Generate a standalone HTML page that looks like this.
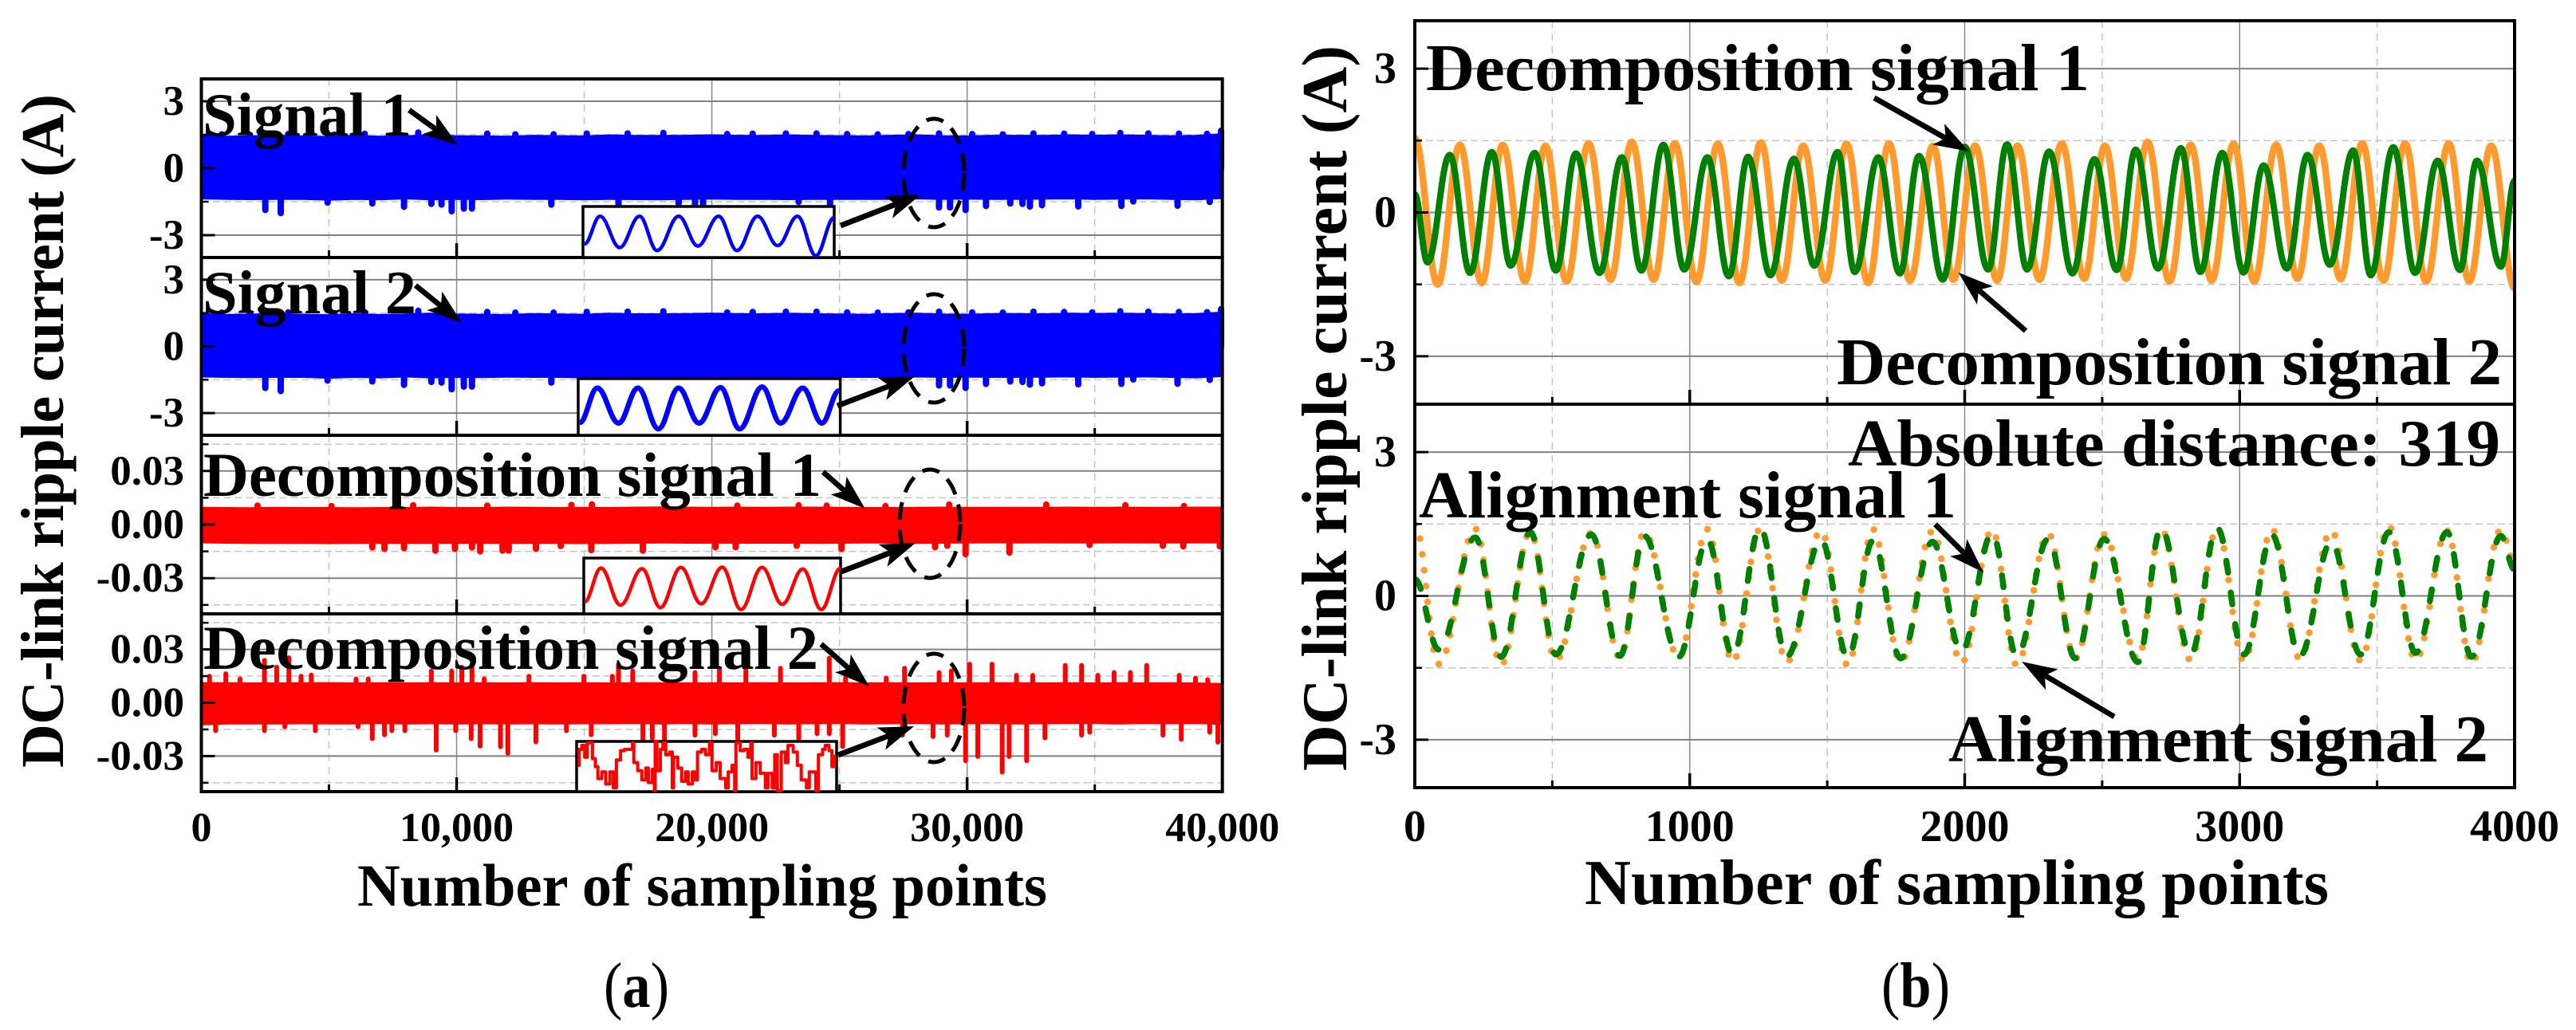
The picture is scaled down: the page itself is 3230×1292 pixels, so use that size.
<!DOCTYPE html>
<html lang="en">
<head>
<meta charset="utf-8">
<title>DC-link ripple current signals and alignment</title>
<style>
html,body{margin:0;padding:0;background:#fff;}
svg{display:block;}
text{font-family:"Liberation Serif",serif;font-weight:bold;fill:#000;}
</style>
</head>
<body>
<svg id="figure" xmlns="http://www.w3.org/2000/svg" width="3230" height="1292" viewBox="0 0 3230 1292">
<rect width="3230" height="1292" fill="#fff"/>
<g id="chart-a"></g>
<g id="chart-b"></g>

<g id="annotations-a">
<text x="254" y="170" font-size="77" textLength="262" lengthAdjust="spacingAndGlyphs">Signal 1</text>
<text x="254" y="393" font-size="77" textLength="268" lengthAdjust="spacingAndGlyphs">Signal 2</text>
<text x="255" y="622" font-size="78" textLength="775" lengthAdjust="spacingAndGlyphs">Decomposition signal 1</text>
<text x="255" y="839" font-size="78" textLength="771" lengthAdjust="spacingAndGlyphs">Decomposition signal 2</text>
<g fill="none" stroke="#000" stroke-width="5" stroke-dasharray="22 13">
<ellipse cx="1171" cy="217" rx="38" ry="68"/>
<ellipse cx="1171" cy="437" rx="38" ry="68"/>
<ellipse cx="1166" cy="657" rx="38" ry="68"/>
<ellipse cx="1171" cy="888" rx="38" ry="68"/>
</g>
</g>

<g id="annotations-b">
<text x="1788" y="113" font-size="84" textLength="832" lengthAdjust="spacingAndGlyphs">Decomposition signal 1</text>
<text x="2303" y="482" font-size="84" textLength="834" lengthAdjust="spacingAndGlyphs">Decomposition signal 2</text>
<text x="2317" y="584" font-size="84" textLength="818" lengthAdjust="spacingAndGlyphs">Absolute distance: 319</text>
<text x="1779" y="649" font-size="84" textLength="674" lengthAdjust="spacingAndGlyphs">Alignment signal 1</text>
<text x="2443" y="955" font-size="84" textLength="677" lengthAdjust="spacingAndGlyphs">Alignment signal 2</text>
</g>
<g id="arrows"></g>

<text transform="translate(79 963) rotate(-90)" font-size="76" textLength="845" lengthAdjust="spacing">DC-link ripple current (A)</text>
<text transform="translate(1688 967) rotate(-90)" font-size="80" textLength="910" lengthAdjust="spacing">DC-link ripple current (A)</text>
<text x="448" y="1136" font-size="75" textLength="865" lengthAdjust="spacingAndGlyphs">Number of sampling points</text>
<text x="1987" y="1134" font-size="80" textLength="933" lengthAdjust="spacingAndGlyphs">Number of sampling points</text>
<text x="757" y="1263" font-size="80" style="font-weight:normal" textLength="82" lengthAdjust="spacingAndGlyphs">(<tspan style="font-weight:bold">a</tspan>)</text>
<text x="2359" y="1263" font-size="80" style="font-weight:normal" textLength="86" lengthAdjust="spacingAndGlyphs">(<tspan style="font-weight:bold">b</tspan>)</text>
</svg>

<script>
/* ---------- axis values ---------- */
const xTicksA = [0, 10000, 20000, 30000, 40000];
const xTickLabelsA = ['0', '10,000', '20,000', '30,000', '40,000'];
const xMinorA = [5000, 15000, 25000, 35000];
const currentTicks = [3, 0, -3];
const currentTickLabels = ['3', '0', '-3'];
const currentMinor = [1.5, -1.5];
const smallTicks = [0.03, 0, -0.03];
const smallTickLabels = ['0.03', '0.00', '-0.03'];
const smallMinor = [0.045, 0.015, -0.015, -0.045];
const xTicksB = [0, 1000, 2000, 3000, 4000];
const xTickLabelsB = ['0', '1000', '2000', '3000', '4000'];
const xMinorB = [500, 1500, 2500, 3500];

/* ---------- panel (a): envelope per 1000 samples, then isolated spikes ---------- */
const signal1Upper = [1.48,1.44,1.46,1.48,1.45,1.43,1.47,1.44,1.46,1.5,1.46,1.45,1.44,1.48,1.46,1.45,1.5,1.47,1.47,1.48,1.5,1.48,1.47,1.5,1.47,1.46,1.45,1.48,1.5,1.46,1.45,1.48,1.48,1.47,1.5,1.48,1.5,1.48,1.46,1.48,1.55];
const signal1Lower = [-1.38,-1.4,-1.41,-1.4,-1.4,-1.44,-1.4,-1.42,-1.38,-1.42,-1.4,-1.41,-1.39,-1.4,-1.4,-1.42,-1.4,-1.41,-1.42,-1.4,-1.39,-1.4,-1.4,-1.41,-1.4,-1.4,-1.4,-1.4,-1.38,-1.4,-1.39,-1.4,-1.4,-1.39,-1.38,-1.4,-1.39,-1.38,-1.4,-1.42,-1.36];
const signal1SpikeX = [2505,3110,4944,6697,7940,9010,9410,9806,10283,10600,13711,16342,18700,19340,19656,23400,24630,28900,29330,29940,30740,31690,32170,32460,32935,34355,36045,36510,38245,39505];
const signal1SpikeY = [-1.87,-2.01,-1.54,-1.58,-1.73,-1.6,-1.63,-1.93,-1.81,-1.81,-1.63,-1.87,-1.58,-1.66,-1.63,-1.51,-1.96,-1.76,-1.76,-1.87,-1.69,-1.58,-1.6,-1.72,-1.66,-1.71,-1.69,-1.49,-1.68,-1.51];
const signal1BumpX = [800,1900,3400,5200,6400,8498,9300,11200,12300,13800,15100,16700,18100,20600,21600,22900,24100,25300,26500,27700,28900,30200,31400,32600,33800,34900,36000,37100,38300,39400,39950];
const signal1BumpY = [1.52,1.5,1.53,1.5,1.54,1.6,1.51,1.55,1.52,1.52,1.55,1.56,1.58,1.53,1.55,1.56,1.56,1.53,1.52,1.53,1.56,1.53,1.52,1.56,1.55,1.53,1.58,1.56,1.55,1.54,1.68];

const signal2Upper = [1.48,1.44,1.46,1.48,1.45,1.43,1.47,1.44,1.46,1.5,1.46,1.45,1.44,1.48,1.46,1.45,1.5,1.47,1.47,1.48,1.5,1.48,1.47,1.5,1.47,1.46,1.45,1.48,1.5,1.46,1.45,1.48,1.48,1.47,1.5,1.48,1.5,1.48,1.46,1.48,1.55];
const signal2Lower = [-1.38,-1.4,-1.41,-1.4,-1.4,-1.44,-1.4,-1.42,-1.38,-1.42,-1.4,-1.41,-1.39,-1.4,-1.4,-1.42,-1.4,-1.41,-1.42,-1.4,-1.39,-1.4,-1.4,-1.41,-1.4,-1.4,-1.4,-1.4,-1.38,-1.4,-1.39,-1.4,-1.4,-1.39,-1.38,-1.4,-1.39,-1.38,-1.4,-1.42,-1.36];
const signal2SpikeX = [2505,3110,4944,6697,7940,9010,9410,9806,10283,10600,13711,16342,18700,19340,19656,23400,24630,28900,29330,29940,30740,31690,32170,32460,32935,34355,36045,36510,38245,39505];
const signal2SpikeY = [-1.87,-2.01,-1.54,-1.58,-1.73,-1.6,-1.63,-1.93,-1.81,-1.81,-1.63,-1.87,-1.58,-1.66,-1.63,-1.51,-1.96,-1.76,-1.76,-1.87,-1.69,-1.58,-1.6,-1.72,-1.66,-1.71,-1.69,-1.49,-1.68,-1.51];
const signal2BumpX = [800,1900,3400,5200,6400,8498,9300,11200,12300,13800,15100,16700,18100,20600,21600,22900,24100,25300,26500,27700,28900,30200,31400,32600,33800,34900,36000,37100,38300,39400,39950];
const signal2BumpY = [1.52,1.5,1.53,1.5,1.54,1.6,1.51,1.55,1.52,1.52,1.55,1.56,1.58,1.53,1.55,1.56,1.56,1.53,1.52,1.53,1.56,1.53,1.52,1.56,1.55,1.53,1.58,1.56,1.55,1.54,1.68];

const decomp1Upper = [0.0097,0.0096,0.0095,0.0097,0.0096,0.0096,0.0095,0.0096,0.0096,0.0098,0.0096,0.0096,0.0098,0.0097,0.0096,0.0097,0.0096,0.0098,0.0099,0.0098,0.0097,0.0098,0.0097,0.0098,0.0098,0.0097,0.0096,0.0096,0.0097,0.0098,0.0097,0.0097,0.0097,0.0097,0.0098,0.0097,0.0098,0.0097,0.0097,0.0098,0.0098];
const decomp1Lower = [-0.0103,-0.0105,-0.0106,-0.0106,-0.0106,-0.0107,-0.0106,-0.0106,-0.0106,-0.0106,-0.0106,-0.0106,-0.0106,-0.0106,-0.0106,-0.0107,-0.0106,-0.0105,-0.0104,-0.0105,-0.0105,-0.0105,-0.0105,-0.0105,-0.0106,-0.0105,-0.0104,-0.0105,-0.0106,-0.0105,-0.0104,-0.0103,-0.0104,-0.0103,-0.0104,-0.0104,-0.0103,-0.0104,-0.0104,-0.0103,-0.0104];
const decomp1SpikeX = [6697,7175,7940,9169,9934,10603,10923,11800,12040,13108,14080,15276,17298,20140,20933,23325,25080,28745,29225,29940,31660,34800,37670,38470,39900];
const decomp1SpikeY = [-0.0128,-0.0136,-0.0132,-0.0146,-0.0136,-0.0128,-0.015,-0.0146,-0.0146,-0.0136,-0.012,-0.0143,-0.0146,-0.0127,-0.0127,-0.0119,-0.0137,-0.0127,-0.0119,-0.0166,-0.0157,-0.0114,-0.0119,-0.0122,-0.0122];
const decomp1BumpX = [2200,5100,8300,11200,14500,15300,18200,21000,23400,24500,26800,29300,33100,36200,38500];
const decomp1BumpY = [0.0106,0.0104,0.0108,0.0106,0.011,0.0113,0.0106,0.0106,0.0108,0.0106,0.0104,0.0112,0.0112,0.0108,0.0104];

const decomp2Upper = [0.0113,0.0113,0.0112,0.0112,0.0113,0.0114,0.0112,0.0113,0.0112,0.0113,0.0112,0.0113,0.0112,0.0113,0.0112,0.0113,0.0112,0.0113,0.0113,0.0112,0.0113,0.0112,0.0113,0.0112,0.0113,0.0113,0.0112,0.0113,0.0112,0.0113,0.0112,0.0113,0.0113,0.0112,0.0113,0.0112,0.0113,0.0112,0.0113,0.0112,0.0108];
const decomp2Lower = [-0.0125,-0.012,-0.012,-0.012,-0.0119,-0.012,-0.012,-0.0118,-0.012,-0.0119,-0.012,-0.0119,-0.012,-0.0119,-0.012,-0.0119,-0.0119,-0.0118,-0.012,-0.0118,-0.012,-0.0119,-0.0118,-0.012,-0.0119,-0.0118,-0.012,-0.0119,-0.0118,-0.012,-0.0119,-0.0118,-0.012,-0.0119,-0.0118,-0.0118,-0.012,-0.0118,-0.0119,-0.0118,-0.0122];
const decomp2UpSpikeX = [320,958,1516,2472,2951,3429,3907,4306,6060,6538,9009,9806,10204,10603,11081,12835,14987,16103,16342,16900,19339,20295,21332,22687,24600,25237,26832,27549,28904,29383,30100,30977,31933,32571,33846,34484,35121,35759,36397,37035,38310,38948,39426];
const decomp2UpSpikeY = [0.0149,0.0163,0.0134,0.0238,0.02,0.0253,0.0149,0.0156,0.0134,0.0134,0.0178,0.0178,0.02,0.0216,0.0134,0.0149,0.0149,0.0149,0.0216,0.0178,0.017,0.0194,0.0186,0.0194,0.025,0.0138,0.0138,0.0194,0.017,0.0178,0.0217,0.0217,0.0154,0.0154,0.021,0.021,0.0154,0.017,0.017,0.021,0.0154,0.0138,0.013];
const decomp2DownSpikeX = [559,2472,3269,4465,6139,6697,7175,7462,7972,9200,9965,10571,10922,11719,12006,13106,14302,15274,17298,17665,18143,19339,20136,21013,22448,23404,24121,24600,25126,27470,28665,29223,29940,30419,31375,31646,32331,33049,34484,34803,37672,38390,39505,39825];
const decomp2DownSpikeY = [-0.0157,-0.0157,-0.0135,-0.0157,-0.0135,-0.0202,-0.018,-0.0157,-0.0157,-0.0266,-0.0157,-0.0202,-0.0244,-0.0247,-0.0284,-0.022,-0.0157,-0.018,-0.0222,-0.0198,-0.0214,-0.0182,-0.0174,-0.0202,-0.0182,-0.0202,-0.0174,-0.0174,-0.0246,-0.0182,-0.019,-0.0182,-0.0326,-0.0302,-0.039,-0.0302,-0.0326,-0.0198,-0.0182,-0.0166,-0.0182,-0.0206,-0.0166,-0.0222];

/* ---------- panel (a) insets: x over a 0..1000 window, normalised amplitude ---------- */
const inset1X = [6,68,146,225,295,381,457,540,613,695,775,854,927,1000];
const inset1Y = [-1.34,1.4,-1.7,1.4,-2.0,1.4,-1.55,1.4,-2.0,1.4,-1.5,1.4,-2.5,1.27];
const inset2X = [6,73,154,228,306,383,461,543,616,702,772,857,930,995];
const inset2Y = [-1.34,1.42,-1.38,1.42,-1.85,1.42,-1.38,1.46,-1.85,1.5,-1.38,1.42,-1.38,1.2];
const inset3X = [3,67,143,227,298,378,457,539,612,694,773,853,925,1000];
const inset3Y = [-1.25,1.4,-1.5,1.35,-1.7,1.45,-1.4,1.47,-1.85,1.45,-1.44,1.33,-1.85,1.4];
const inset4X = [5,10,20,31,41,51,61,72,82,97,112,128,141,153,169,184,199,215,220,235,251,266,276,291,299,302,309,322,332,343,358,368,373,389,404,419,429,445,455,465,481,496,511,521,537,552,573,583,598,608,613,629,644,659,670,675,690,706,726,736,752,762,772,787,803,813,833,849,864,884,895,920,930,946,956,971,982,992];
const inset4Y = [0,1.25,1.56,0.63,1.77,1.77,0.52,-0.1,-1.04,-0.52,-1.46,-0.52,-1.77,0.42,1.15,1.25,1.25,1.77,0.21,-0.42,-1.15,-0.21,-1.35,-0.31,-1.98,1.88,-0.42,1.25,1.77,0.83,1.04,-1.77,0.63,-0.21,-1.25,-0.52,-1.46,-0.52,-1.15,1.04,1.25,0.83,1.77,-0.42,0.21,-1.04,-1.77,-0.52,0,-1.98,1.77,1.15,1.25,0.63,1.77,-1.04,0.21,-0.63,-1.77,-0.63,-1.77,0.83,-1.98,1.04,0.21,1.56,1.04,0,-1.15,-1.77,-0.52,-1.98,0.83,1.25,1.56,1.15,-0.1,0.83];

/* ---------- panel (b): peaks and troughs ---------- */
const decompOrangeX = [0,83,164,243,320,401,475,552,632,712,789,869,946,1024,1102,1181,1259,1335,1413,1493,1570,1649,1725,1801,1885,1959,2038,2118,2192,2272,2353,2435,2510,2587,2665,2745,2822,2898,2978,3053,3133,3210,3290,3367,3446,3523,3602,3678,3761,3835,3915,4000];
const decompOrangeY = [1.55,-1.5,1.41,-1.47,1.41,-1.44,1.39,-1.44,1.44,-1.4,1.47,-1.4,1.44,-1.45,1.43,-1.47,1.46,-1.42,1.39,-1.42,1.43,-1.47,1.44,-1.42,1.39,-1.4,1.39,-1.42,1.39,-1.4,1.44,-1.38,1.39,-1.38,1.47,-1.44,1.41,-1.42,1.43,-1.44,1.41,-1.38,1.39,-1.39,1.44,-1.42,1.44,-1.44,1.44,-1.44,1.39,-1.58];
const decompGreenX = [0,46,127,201,280,349,436,513,586,672,753,824,904,980,1064,1142,1212,1293,1379,1453,1538,1600,1686,1764,1834,1920,2000,2085,2154,2227,2307,2392,2472,2553,2622,2703,2786,2857,2937,3014,3087,3172,3247,3328,3413,3477,3559,3638,3720,3801,3863,3950,4000];
const decompGreenY = [0.38,-1.04,1.2,-1.26,1.26,-1.11,1.24,-1.21,1.23,-1.26,1.15,-1.21,1.41,-1.19,1.15,-1.33,1.16,-1.31,1.12,-1.11,1.26,-1.24,1.15,-1.27,1.18,-1.4,1.37,-1.19,1.42,-1.19,1.27,-1.27,1.11,-1.2,1.31,-1.17,1.34,-1.24,1.24,-1.25,0.98,-1.17,1.2,-1.09,1.29,-1.31,1.36,-1.26,1.08,-1.2,1.08,-1.13,0.66];
const alignOrangeX = [0,87,220,314,420,513,642,746,835,960,1064,1156,1256,1353,1478,1575,1666,1767,1883,1988,2100,2189,2304,2402,2507,2630,2714,2822,2918,3016,3118,3219,3333,3440,3543,3640,3754,3843,3950,4000];
const alignOrangeY = [1.5,-1.42,1.4,-1.44,1.33,-1.34,1.31,-1.29,1.33,-1.28,1.39,-1.38,1.39,-1.38,1.36,-1.45,1.39,-1.38,1.35,-1.4,1.38,-1.44,1.3,-1.31,1.28,-1.31,1.4,-1.34,1.4,-1.36,1.39,-1.31,1.36,-1.35,1.45,-1.34,1.36,-1.41,1.38,0.69];
const alignGreenX = [0,87,220,314,420,513,642,746,835,960,1064,1156,1256,1353,1478,1575,1666,1767,1883,1988,2100,2189,2304,2402,2507,2630,2714,2822,2918,3016,3118,3219,3333,3440,3543,3640,3754,3843,3950,4000];
const alignGreenY = [0.35,-1.12,1.22,-1.27,1.33,-1.22,1.28,-1.25,1.25,-1.27,1.18,-1.24,1.42,-1.26,1.17,-1.29,1.15,-1.3,1.13,-1.16,1.3,-1.25,1.19,-1.3,1.19,-1.38,1.42,-1.22,1.42,-1.22,1.27,-1.25,1.13,-1.22,1.33,-1.19,1.33,-1.27,1.25,0.55];

/* ---------- scales and helpers ---------- */
const SVGNS = 'http://www.w3.org/2000/svg';
function make(parent, tag, attrs) {
  const el = document.createElementNS(SVGNS, tag);
  for (const k in attrs) el.setAttribute(k, attrs[k]);
  parent.appendChild(el);
  return el;
}
const xA = s => 252.5 + s / 40000 * 1280.2;
const xB = s => 1774 + s / 4000 * 1379;
const scaleY = (top, bottom, max) => v => (top + bottom) / 2 - v / max * (bottom - top) / 2;

function smoothPath(xs, ys, fx, fy) {
  let d = 'M' + fx(xs[0]).toFixed(1) + ' ' + fy(ys[0]).toFixed(1);
  for (let i = 1; i < xs.length; i++) {
    const x0 = fx(xs[i - 1]), x1 = fx(xs[i]), y0 = fy(ys[i - 1]), y1 = fy(ys[i]);
    const c = (x1 - x0) * 0.38;
    d += 'C' + (x0 + c).toFixed(1) + ' ' + y0.toFixed(1) + ' ' + (x1 - c).toFixed(1) + ' ' + y1.toFixed(1) + ' ' + x1.toFixed(1) + ' ' + y1.toFixed(1);
  }
  return d;
}

function stepPath(xs, ys, fx, fy) {
  let d = 'M' + fx(xs[0]).toFixed(1) + ' ' + fy(ys[0]).toFixed(1);
  for (let i = 1; i < xs.length; i++) {
    d += 'H' + fx(xs[i]).toFixed(1) + 'V' + fy(ys[i]).toFixed(1);
  }
  return d;
}

function drawPanelFrame(group, name, x0, x1, top, bottom, fx, fy, majorX, minorX, majorY, minorY) {
  const grid = make(group, 'g', {});
  
  
  minorX.forEach(s => {
    const el = make(grid, 'line', {x1: fx(s), x2: fx(s), y1: top, y2: bottom, stroke: '#c4c4c4', 'stroke-width': 1.5, 'stroke-dasharray': '9 7'});
    
    
  });
  majorX.forEach(s => {
    const el = make(grid, 'line', {x1: fx(s), x2: fx(s), y1: top, y2: bottom, stroke: '#8a8a8a', 'stroke-width': 1.5});
    
    
  });
  minorY.forEach(v => {
    const el = make(grid, 'line', {x1: x0, x2: x1, y1: fy(v), y2: fy(v), stroke: '#c4c4c4', 'stroke-width': 1.5, 'stroke-dasharray': '9 5'});
    
    
  });
  majorY.forEach(v => {
    const el = make(grid, 'line', {x1: x0, x2: x1, y1: fy(v), y2: fy(v), stroke: '#808080', 'stroke-width': 2});
    
    
  });
}

function drawPanelAxes(group, name, x0, x1, top, bottom, fx, fy, majorX, minorX, majorY, minorY) {
  const axes = make(group, 'g', {stroke: '#000'});
  
  
  majorX.forEach(s => {
    const el = make(axes, 'line', {x1: fx(s), x2: fx(s), y1: bottom, y2: bottom - 18, 'stroke-width': 3.5});
    
    
  });
  minorX.forEach(s => {
    const el = make(axes, 'line', {x1: fx(s), x2: fx(s), y1: bottom, y2: bottom - 9, 'stroke-width': 3});
    
    
  });
  majorY.forEach(v => {
    const el = make(axes, 'line', {x1: x0, x2: x0 + 17, y1: fy(v), y2: fy(v), 'stroke-width': 3});
    
    
  });
  minorY.forEach(v => {
    const el = make(axes, 'line', {x1: x0, x2: x0 + 9, y1: fy(v), y2: fy(v), 'stroke-width': 2.5});
    
    
  });
  const frame = make(axes, 'rect', {x: x0, y: top, width: x1 - x0, height: bottom - top, fill: 'none', 'stroke-width': 4});
  
  
}

function drawYLabels(group, values, labels, fy, xRight, size) {
  values.forEach((v, i) => {
    const el = make(group, 'text', {x: xRight, y: fy(v) + size * 0.32, 'font-size': size, 'text-anchor': 'end'});
    el.textContent = labels[i];
    
    
  });
}

function drawBand(group, name, color, upper, lower, spikeSets, fy) {
  const g = make(group, 'g', {});
  
  
  let pts = [];
  upper.forEach((v, i) => pts.push(xA(i * 1000).toFixed(1) + ',' + fy(v).toFixed(1)));
  for (let i = lower.length - 1; i >= 0; i--) pts.push(xA(i * 1000).toFixed(1) + ',' + fy(lower[i]).toFixed(1));
  const band = make(g, 'polygon', {points: pts.join(' '), fill: color, stroke: color, 'stroke-width': 1});
  
  
  spikeSets.forEach(set => {
    set.x.forEach((s, i) => {
      const el = make(g, 'line', {x1: xA(s), x2: xA(s), y1: fy(0), y2: fy(set.y[i]), stroke: color, 'stroke-width': set.w, 'stroke-linecap': 'round'});
      
      
    });
  });
}

function drawInset(group, name, left, right, top, bottom, mid, unit, xs, ys, color, width, smooth) {
  const g = make(group, 'g', {});
  
  
  const box = make(g, 'rect', {x: left, y: top, width: right - left, height: bottom - top, fill: '#fff', stroke: '#000', 'stroke-width': 3.5});
  
  
  const fx = s => left + s / 1000 * (right - left);
  const fy = v => mid - v * unit;
  const d = smooth ? smoothPath(xs, ys, fx, fy) : stepPath(xs, ys, fx, fy);
  const line = make(g, 'path', {d: d, fill: 'none', stroke: color, 'stroke-width': width, 'stroke-linejoin': 'round'});
  
  
}

function drawArrow(name, x1, y1, x2, y2) {
  const host = document.getElementById('arrows');
  const dx = x2 - x1, dy = y2 - y1, len = Math.hypot(dx, dy);
  const ux = dx / len, uy = dy / len, nx = -uy, ny = ux;
  const headLen = 44, barb = 36, headHalf = 15, shaft = 3.4;
  const p = [
    [x1 + nx * shaft, y1 + ny * shaft],
    [x2 - ux * barb + nx * shaft, y2 - uy * barb + ny * shaft],
    [x2 - ux * headLen + nx * headHalf, y2 - uy * headLen + ny * headHalf],
    [x2, y2],
    [x2 - ux * headLen - nx * headHalf, y2 - uy * headLen - ny * headHalf],
    [x2 - ux * barb - nx * shaft, y2 - uy * barb - ny * shaft],
    [x1 - nx * shaft, y1 - ny * shaft]
  ];
  const el = make(host, 'polygon', {points: p.map(q => q[0].toFixed(1) + ',' + q[1].toFixed(1)).join(' '), fill: '#000'});
  
  
}

/* ---------- chart (a) ---------- */
const chartA = document.getElementById('chart-a');
const yS1 = scaleY(99, 323, 4);
const yS2 = scaleY(323, 546, 4);
const yD1 = scaleY(546, 770, 0.05);
const yD2 = scaleY(770, 993, 0.05);

drawPanelFrame(chartA, 'signal-1-panel', 252.5, 1532.7, 99, 323, xA, yS1, xTicksA, xMinorA, currentTicks, currentMinor);
drawPanelFrame(chartA, 'signal-2-panel', 252.5, 1532.7, 323, 546, xA, yS2, xTicksA, xMinorA, currentTicks, currentMinor);
drawPanelFrame(chartA, 'decomposition-1-panel', 252.5, 1532.7, 546, 770, xA, yD1, xTicksA, xMinorA, smallTicks, smallMinor);
drawPanelFrame(chartA, 'decomposition-2-panel', 252.5, 1532.7, 770, 993, xA, yD2, xTicksA, xMinorA, smallTicks, smallMinor);

drawBand(chartA, 'signal-1-series', '#0000ff', signal1Upper, signal1Lower, [{x: signal1SpikeX, y: signal1SpikeY, w: 8}, {x: signal1BumpX, y: signal1BumpY, w: 8}], yS1);
drawBand(chartA, 'signal-2-series', '#0000ff', signal2Upper, signal2Lower, [{x: signal2SpikeX, y: signal2SpikeY, w: 8}, {x: signal2BumpX, y: signal2BumpY, w: 8}], yS2);
drawBand(chartA, 'decomposition-1-series', '#ff0000', decomp1Upper, decomp1Lower, [{x: decomp1SpikeX, y: decomp1SpikeY, w: 8}, {x: decomp1BumpX, y: decomp1BumpY, w: 8}], yD1);
drawBand(chartA, 'decomposition-2-series', '#ff0000', decomp2Upper, decomp2Lower, [{x: decomp2UpSpikeX, y: decomp2UpSpikeY, w: 6}, {x: decomp2DownSpikeX, y: decomp2DownSpikeY, w: 6}], yD2);

drawPanelAxes(chartA, 'signal-1-panel', 252.5, 1532.7, 99, 323, xA, yS1, xTicksA, xMinorA, currentTicks, currentMinor);
drawPanelAxes(chartA, 'signal-2-panel', 252.5, 1532.7, 323, 546, xA, yS2, xTicksA, xMinorA, currentTicks, currentMinor);
drawPanelAxes(chartA, 'decomposition-1-panel', 252.5, 1532.7, 546, 770, xA, yD1, xTicksA, xMinorA, smallTicks, smallMinor);
drawPanelAxes(chartA, 'decomposition-2-panel', 252.5, 1532.7, 770, 993, xA, yD2, xTicksA, xMinorA, smallTicks, smallMinor);

drawInset(chartA, 'signal-1-inset', 731, 1046, 259, 323, 289, 12.67, inset1X, inset1Y, '#0000ff', 4.5, true);
drawInset(chartA, 'signal-2-inset', 725, 1053.6, 475, 546, 509, 15.7, inset2X, inset2Y, '#0000ff', 6.5, true);
drawInset(chartA, 'decomposition-1-inset', 732, 1054, 700, 770, 735, 16, inset3X, inset3Y, '#ff0000', 4.5, true);
drawInset(chartA, 'decomposition-2-inset', 723, 1049, 930, 993, 960, 16, inset4X, inset4Y, '#ff0000', 4, false);

drawYLabels(chartA, currentTicks, currentTickLabels, yS1, 231, 53);
drawYLabels(chartA, currentTicks, currentTickLabels, yS2, 231, 53);
drawYLabels(chartA, smallTicks, smallTickLabels, yD1, 231, 53);
drawYLabels(chartA, smallTicks, smallTickLabels, yD2, 231, 53);

xTicksA.forEach((s, i) => {
  const el = make(chartA, 'text', {x: xA(s), y: 1055, 'font-size': 52, 'text-anchor': 'middle'});
  el.textContent = xTickLabelsA[i];
  
  
});

/* ---------- chart (b) ---------- */
const chartB = document.getElementById('chart-b');
const yTop = scaleY(26, 507, 4);
const yBot = scaleY(507, 988, 4);

drawPanelFrame(chartB, 'decomposition-panel', 1774, 3153, 26, 507, xB, yTop, xTicksB, xMinorB, currentTicks, currentMinor);
drawPanelFrame(chartB, 'alignment-panel', 1774, 3153, 507, 988, xB, yBot, xTicksB, xMinorB, currentTicks, currentMinor);

const clipB = make(chartB, 'clipPath', {id: 'clip-b'});


make(clipB, 'rect', {x: 1774, y: 26, width: 1379, height: 962});

const seriesB = make(chartB, 'g', {'clip-path': 'url(#clip-b)', fill: 'none'});



const lineDO = make(seriesB, 'path', {d: smoothPath(decompOrangeX, decompOrangeY, xB, yTop), stroke: '#ff9a2e', 'stroke-width': 8.5});


const lineDG = make(seriesB, 'path', {d: smoothPath(decompGreenX, decompGreenY, xB, yTop), stroke: '#008000', 'stroke-width': 8});


const lineAO = make(seriesB, 'path', {d: smoothPath(alignOrangeX, alignOrangeY, xB, yBot), stroke: '#ff9a2e', 'stroke-width': 8.5, 'stroke-linecap': 'round', 'stroke-dasharray': '0 20'});


const lineAG = make(seriesB, 'path', {d: smoothPath(alignGreenX, alignGreenY, xB, yBot), stroke: '#008000', 'stroke-width': 7.5, 'stroke-linecap': 'round', 'stroke-dasharray': '15 25'});



drawPanelAxes(chartB, 'decomposition-panel', 1774, 3153, 26, 507, xB, yTop, xTicksB, xMinorB, currentTicks, currentMinor);
drawPanelAxes(chartB, 'alignment-panel', 1774, 3153, 507, 988, xB, yBot, xTicksB, xMinorB, currentTicks, currentMinor);

drawYLabels(chartB, currentTicks, currentTickLabels, yTop, 1751, 56);
drawYLabels(chartB, currentTicks, currentTickLabels, yBot, 1751, 56);

xTicksB.forEach((s, i) => {
  const el = make(chartB, 'text', {x: xB(s), y: 1055, 'font-size': 56, 'text-anchor': 'middle'});
  el.textContent = xTickLabelsB[i];
  
  
});

/* ---------- arrows ---------- */
drawArrow('signal-1-arrow', 513, 138, 574, 182);
drawArrow('signal-2-arrow', 521, 358, 579, 405);
drawArrow('signal-1-inset-arrow', 1054, 283, 1154.6, 244);
drawArrow('signal-2-inset-arrow', 1050, 509, 1147, 472);
drawArrow('decomposition-1-arrow', 1032, 592, 1084.7, 638);
drawArrow('decomposition-1-inset-arrow', 1055, 717, 1148, 681);
drawArrow('decomposition-2-arrow', 1029.6, 808, 1090, 861);
drawArrow('decomposition-2-inset-arrow', 1051, 947, 1146, 911);
drawArrow('decomposition-signal-1-arrow', 2350, 122.7, 2469, 190);
drawArrow('decomposition-signal-2-arrow', 2540, 415, 2455.6, 341.7);
drawArrow('alignment-signal-1-arrow', 2426.5, 657.7, 2487, 718);
drawArrow('alignment-signal-2-arrow', 2651, 899, 2535, 830);
</script>
</body>
</html>
